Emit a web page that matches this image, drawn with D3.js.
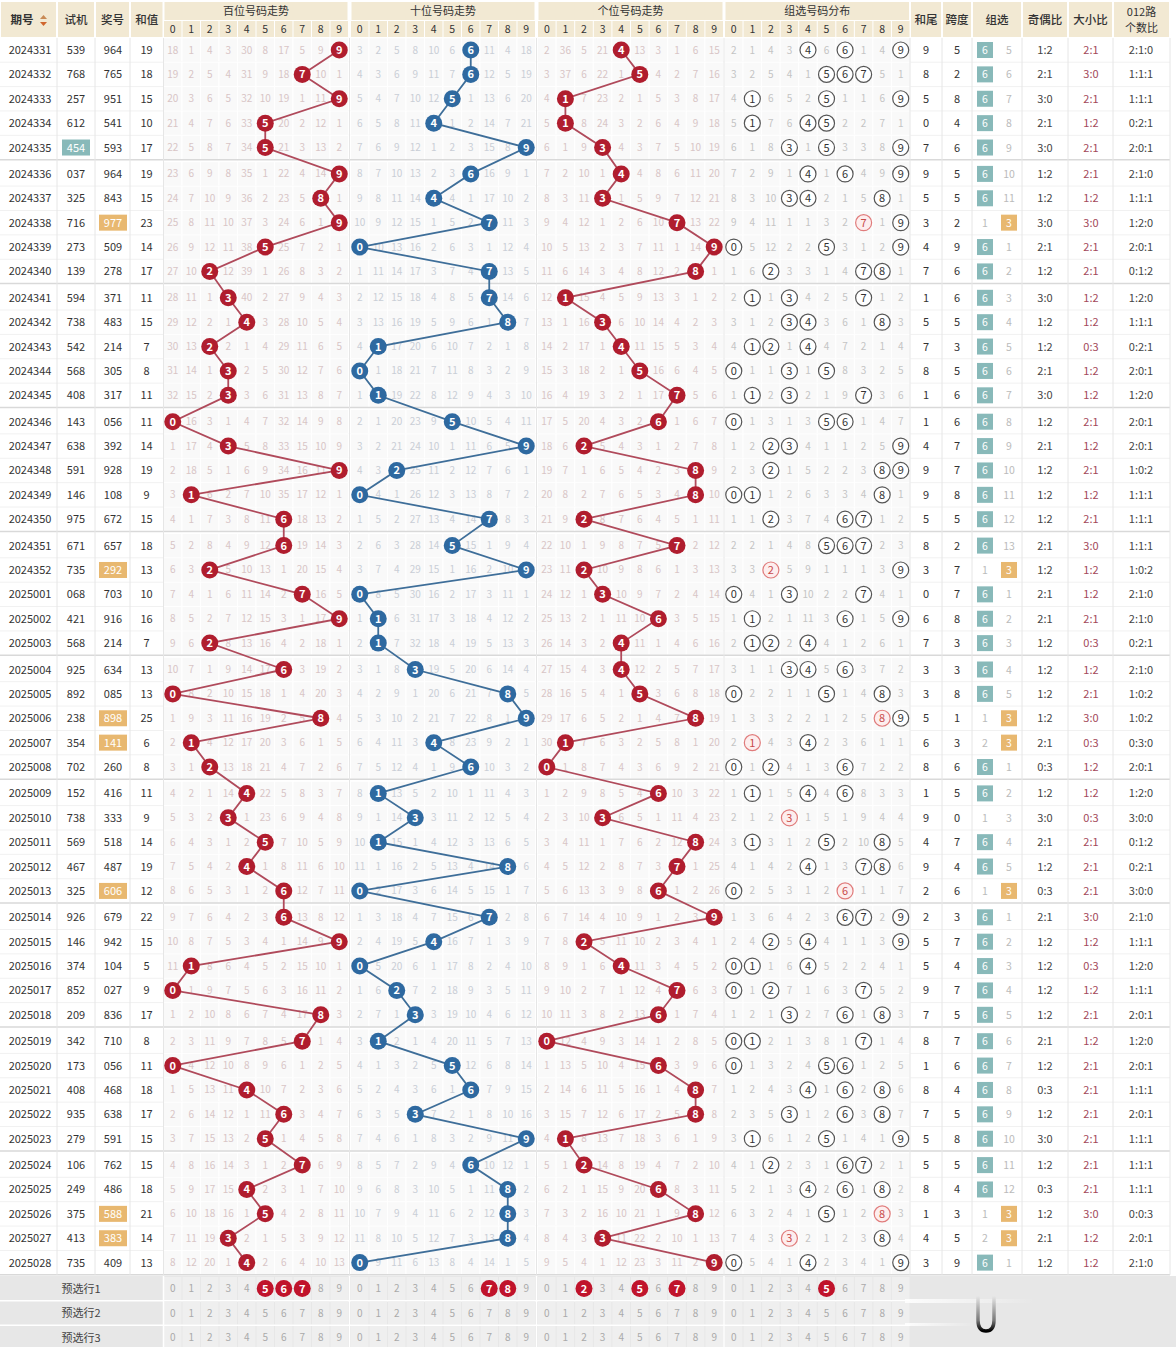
<!DOCTYPE html>
<html><head><meta charset="utf-8">
<script src="https://cdn.jsdelivr.net/npm/d3@7/dist/d3.min.js"></script>
<style>
body{margin:0;background:#fff;}
svg text{font-family:"Noto Sans CJK SC","Noto Sans",sans-serif;}
</style></head><body>
<div id="chart"></div>
<script>
// draw list
var issues = ["2024331","2024332","2024333","2024334","2024335","2024336","2024337","2024338","2024339","2024340",
  "2024341","2024342","2024343","2024344","2024345","2024346","2024347","2024348","2024349","2024350",
  "2024351","2024352","2025001","2025002","2025003","2025004","2025005","2025006","2025007","2025008",
  "2025009","2025010","2025011","2025012","2025013","2025014","2025015","2025016","2025017","2025018",
  "2025019","2025020","2025021","2025022","2025023","2025024","2025025","2025026","2025027","2025028"];
var testNums = ["539","768","257","612","454","037","325","716","273","139",
  "594","738","542","568","408","143","638","591","146","975",
  "671","735","068","421","568","925","892","238","354","702",
  "152","738","569","467","325","926","146","374","852","209",
  "342","173","408","935","279","106","249","375","413","735"];
var drawNums = ["964","765","951","541","593","964","843","977","509","278",
  "371","483","214","305","317","056","392","928","108","672",
  "657","292","703","916","214","634","085","898","141","260",
  "416","333","518","487","606","679","942","104","027","836",
  "710","056","468","638","591","762","486","588","383","409"];

// omission values shown on the first row (0 = hit)
var hundredsMiss0 = [18,1,4,3,30,8,17,5,9,0];
var tensMiss0     = [3,2,5,8,10,6,0,11,4,18];
var unitsMiss0    = [2,36,5,21,0,13,3,1,6,15];
var groupMiss0    = [2,1,4,3,0,6,0,1,4,0];
var group3Miss0 = 5;

// forecast rows
var pickHundreds = [[5,6,7],[],[]];
var pickTens     = [[7,8],[],[]];
var pickUnits    = [[2,5,7],[],[]];
var pickGroup    = [[5],[],[]];
var pickLabels = ["预选行1","预选行2","预选行3"];

var width = 1176, height = 1347;
var svg = d3.select("#chart").append("svg")
  .attr("width", width).attr("height", height);

var headBg = "#f2e9d3";
var rowH = 24.38;
var yLin = d3.scaleLinear().domain([0, 49]).range([50, 50 + 49*rowH]);
function rowY(i){ return yLin(i) + Math.floor(i/5)*2; }

var digits = d3.range(10);
var secs = [
  {title:"百位号码走势", x0:163.5, x1:348.5, miss0:hundredsMiss0, pos:0, ball:"#b01d2e", line:"#b04a5b", txt:"#d8c5c6", picks:pickHundreds},
  {title:"十位号码走势", x0:350.5, x1:535.5, miss0:tensMiss0, pos:1, ball:"#2e69a0", line:"#3e6e99", txt:"#c9ced6", picks:pickTens},
  {title:"个位号码走势", x0:537.5, x1:723.5, miss0:unitsMiss0, pos:2, ball:"#b01d2e", line:"#b04a5b", txt:"#d8c5c6", picks:pickUnits}
];
secs.forEach(function(s){ s.x = d3.scaleBand().domain(digits).range([s.x0, s.x1]); });
var gx = d3.scaleBand().domain(digits).range([724.5, 910]);

var cols = [
  {name:"期号", x0:0, x1:57},
  {name:"试机", x0:57, x1:95},
  {name:"奖号", x0:95, x1:130},
  {name:"和值", x0:130, x1:163.5}
];
var rcols = [
  {name:"和尾", x0:910, x1:942},
  {name:"跨度", x0:942, x1:972},
  {name:"组选", x0:972, x1:1022},
  {name:"奇偶比", x0:1022, x1:1068},
  {name:"大小比", x0:1068, x1:1113},
  {name:"012路", x0:1113, x1:1170}
];

// derived per-row values
var rows = drawNums.map(function(n, i){
  var d = n.split("").map(Number);
  var uniq = Array.from(new Set(d));
  var type = uniq.length == 3 ? 6 : (uniq.length == 2 ? 3 : 1);
  var odd = d.filter(function(v){ return v%2 == 1; }).length;
  var big = d.filter(function(v){ return v >= 5; }).length;
  var r = [0,1,2].map(function(k){ return d.filter(function(v){ return v%3 == k; }).length; });
  var sum = d3.sum(d);
  var t = testNums[i].split("").map(Number);
  var tt = new Set(t).size == 2;
  return {i:i, d:d, uniq:uniq, type:type, sum:sum, tail:sum%10, span:d3.max(d)-d3.min(d),
    oe:odd+":"+(3-odd), bs:big+":"+(3-big), r012:r.join(":"), testG3:tt};
});

// omission tables
function missRows(init, hit){
  var out = [], cur = init.slice();
  rows.forEach(function(r, i){
    if (i > 0) cur = cur.map(function(v, dg){ return hit(r, dg) ? 0 : v + 1; });
    out.push(cur.slice());
  });
  return out;
}
secs.forEach(function(s){ s.miss = missRows(s.miss0, function(r, dg){ return r.d[s.pos] == dg; }); });
var gMiss = missRows(groupMiss0, function(r, dg){ return r.d.indexOf(dg) >= 0; });
var g6 = 0, g3 = group3Miss0;
rows.forEach(function(r, i){
  if (i > 0){ g6 = r.type == 6 ? 0 : g6 + 1; g3 = r.type == 3 ? 0 : g3 + 1; }
  r.g6 = g6; r.g3 = g3;
});

// ---------- header ----------
var hdr = svg.append("g");
function hcell(x0, x1, y0, y1){
  hdr.append("rect").attr("x", x0+1).attr("y", y0).attr("width", x1-x0-2).attr("height", y1-y0).attr("fill", headBg);
}
cols.concat(rcols).forEach(function(c){
  hcell(c.x0, c.x1, 2, 37);
  if (c.name == "012路"){
    hdr.append("text").attr("x", (c.x0+c.x1)/2).attr("y", 16).attr("text-anchor","middle").attr("font-size",11).attr("fill","#333").text("012路");
    hdr.append("text").attr("x", (c.x0+c.x1)/2).attr("y", 32).attr("text-anchor","middle").attr("font-size",11).attr("fill","#333").text("个数比");
  } else {
    hdr.append("text").attr("x", c.name == "期号" ? 22 : (c.x0+c.x1)/2).attr("y", 24).attr("text-anchor","middle")
      .attr("font-size",11.5).attr("font-weight", c.name=="期号" ? 700 : 500).attr("fill","#333").text(c.name);
  }
});
// sort icon
hdr.append("path").attr("d","M40,19 L43.5,15 L47,19 Z").attr("fill","#c98a55");
hdr.append("path").attr("d","M40,22 L43.5,26 L47,22 Z").attr("fill","#d0662e");

var groupSec = {title:"组选号码分布", x0:724.5, x1:910, x:gx};
secs.concat([groupSec]).forEach(function(s){
  hcell(s.x0, s.x1, 2, 20);
  hdr.append("text").attr("x", (s.x0+s.x1)/2).attr("y", 15).attr("text-anchor","middle").attr("font-size",11).attr("fill","#333").text(s.title);
  digits.forEach(function(dg){
    hdr.append("rect").attr("x", s.x(dg)+0.5).attr("y", 21).attr("width", s.x.bandwidth()-1).attr("height", 16).attr("fill", headBg);
    hdr.append("text").attr("x", s.x(dg)+s.x.bandwidth()/2).attr("y", 33).attr("text-anchor","middle").attr("font-size",10.5).attr("fill","#333").text(dg);
  });
});

// ---------- body grid ----------
var body = svg.append("g");
rows.forEach(function(r, i){
  var y = rowY(i);
  secs.concat([groupSec]).forEach(function(s){
    digits.forEach(function(dg){
      body.append("rect").attr("x", s.x(dg)).attr("y", y-12.2).attr("width", s.x.bandwidth()).attr("height", rowH)
        .attr("fill", "#f9f9f9").attr("stroke", "#fff").attr("stroke-width", 1);
    });
  });
  body.append("line").attr("x1",0).attr("x2",1170).attr("y1", y+12.2).attr("y2", y+12.2)
    .attr("stroke", i%5 == 4 ? "#d9d9d9" : "#f1f1f1").attr("stroke-width", i%5 == 4 ? 1.5 : 1);
});
var yTop = 38, yBot = rowY(49) + 12.2;
[57,95,130,163.5,349.5,536.5,724,910,942,972,1022,1068,1113,1170].forEach(function(x){
  body.append("line").attr("x1",x).attr("x2",x).attr("y1",yTop).attr("y2",yBot).attr("stroke","#e6e6e6");
});

// ---------- left columns ----------
var left = svg.append("g").attr("font-size", 11).attr("fill", "#333").attr("text-anchor", "middle");
rows.forEach(function(r, i){
  var y = rowY(i) + 4;
  left.append("text").attr("x", 30).attr("y", y).text(issues[i]);
  if (r.testG3){
    left.append("rect").attr("x", 62).attr("y", rowY(i)-8).attr("width", 28).attr("height", 16).attr("fill", "#88b9b9");
    left.append("text").attr("x", 76).attr("y", y).attr("fill", "#fff").text(testNums[i]);
  } else left.append("text").attr("x", 76).attr("y", y).text(testNums[i]);
  if (r.type == 3){
    left.append("rect").attr("x", 99).attr("y", rowY(i)-8).attr("width", 28).attr("height", 16).attr("fill", "#e8b870");
    left.append("text").attr("x", 113).attr("y", y).attr("fill", "#fff").text(drawNums[i]);
  } else left.append("text").attr("x", 113).attr("y", y).text(drawNums[i]);
  left.append("text").attr("x", 146.5).attr("y", y).text(r.sum);
});

// ---------- trend sections ----------
secs.forEach(function(s){
  var g = svg.append("g");
  var bw = s.x.bandwidth()/2;
  rows.forEach(function(r, i){
    digits.forEach(function(dg){
      if (s.miss[i][dg] > 0)
        g.append("text").attr("x", s.x(dg)+bw).attr("y", rowY(i)+3.5).attr("text-anchor","middle")
          .attr("font-size", 10).attr("fill", s.txt).text(s.miss[i][dg]);
    });
  });
  g.append("path").datum(rows)
    .attr("fill", "none").attr("stroke", s.line).attr("stroke-width", 1.8)
    .attr("d", d3.line().x(function(r){ return s.x(r.d[s.pos]) + bw; }).y(function(r){ return rowY(r.i); }));
  var b = g.selectAll(".ball").data(rows).enter().append("g")
    .attr("transform", function(r){ return "translate(" + (s.x(r.d[s.pos]) + bw) + "," + rowY(r.i) + ")"; });
  b.append("circle").attr("r", 8.5).attr("fill", s.ball);
  b.append("text").attr("y", 4).attr("text-anchor","middle").attr("font-size", 11).attr("font-weight", 700)
    .attr("fill", "#fff").text(function(r){ return r.d[s.pos]; });
});

// ---------- group distribution ----------
var gg = svg.append("g");
var gbw = gx.bandwidth()/2;
rows.forEach(function(r, i){
  digits.forEach(function(dg){
    var cx = gx(dg) + gbw, cy = rowY(i);
    if (gMiss[i][dg] == 0){
      var cnt = r.d.filter(function(v){ return v == dg; }).length;
      var rep = cnt > 1;
      gg.append("circle").attr("cx", cx).attr("cy", cy).attr("r", 8)
        .attr("fill", rep ? "#fdeeee" : "#fff").attr("stroke", rep ? "#e07b7b" : "#555").attr("stroke-width", 1.2);
      gg.append("text").attr("x", cx).attr("y", cy+4).attr("text-anchor","middle").attr("font-size", 11)
        .attr("fill", rep ? "#c84a4a" : "#333").text(dg);
    } else {
      gg.append("text").attr("x", cx).attr("y", cy+3.5).attr("text-anchor","middle").attr("font-size", 10)
        .attr("fill", "#c4c4c4").text(gMiss[i][dg]);
    }
  });
});

// ---------- right columns ----------
var rg = svg.append("g").attr("font-size", 11).attr("text-anchor", "middle");
rows.forEach(function(r, i){
  var y = rowY(i) + 4;
  rg.append("text").attr("x", 926).attr("y", y).attr("fill", "#333").text(r.tail);
  rg.append("text").attr("x", 957).attr("y", y).attr("fill", "#333").text(r.span);
  if (r.type == 6){
    rg.append("rect").attr("x", 977).attr("y", rowY(i)-8).attr("width", 16).attr("height", 16).attr("fill", "#88b9b9");
    rg.append("text").attr("x", 985).attr("y", y).attr("fill", "#fff").attr("font-size", 10.5).text(6);
  } else rg.append("text").attr("x", 985).attr("y", y).attr("fill", "#bbb").attr("font-size", 10.5).text(r.g6);
  if (r.type == 3){
    rg.append("rect").attr("x", 1001).attr("y", rowY(i)-8).attr("width", 16).attr("height", 16).attr("fill", "#e8b870");
    rg.append("text").attr("x", 1009).attr("y", y).attr("fill", "#fff").attr("font-size", 10.5).text(3);
  } else rg.append("text").attr("x", 1009).attr("y", y).attr("fill", "#bbb").attr("font-size", 10.5).text(r.g3);
  rg.append("text").attr("x", 1045).attr("y", y).attr("fill", "#444").text(r.oe);
  rg.append("text").attr("x", 1091).attr("y", y).attr("fill", "#a3495a").text(r.bs);
  rg.append("text").attr("x", 1141).attr("y", y).attr("fill", "#444").text(r.r012);
});

// ---------- forecast rows ----------
var fy = [1288.5, 1313, 1337.5];
var fg = svg.append("g");
fg.append("rect").attr("x", 0).attr("y", 1276).attr("width", width).attr("height", height-1276).attr("fill", "#e7e7e7");
fy.forEach(function(y, k){
  fg.append("text").attr("x", 81).attr("y", y+4).attr("text-anchor","middle").attr("font-size", 11).attr("fill","#444").text(pickLabels[k]);
  secs.concat([{x:gx, picks:pickGroup}]).forEach(function(s){
    var bw = s.x.bandwidth()/2;
    digits.forEach(function(dg){
      fg.append("rect").attr("x", s.x(dg)+0.5).attr("y", y-11.5).attr("width", s.x.bandwidth()-1).attr("height", 23).attr("fill", "#efefef");
      if (s.picks[k].indexOf(dg) >= 0){
        fg.append("circle").attr("cx", s.x(dg)+bw).attr("cy", y).attr("r", 8.5).attr("fill", "#c0132b");
        fg.append("text").attr("x", s.x(dg)+bw).attr("y", y+4).attr("text-anchor","middle").attr("font-size", 11)
          .attr("font-weight", 700).attr("fill", "#fff").text(dg);
      } else {
        fg.append("text").attr("x", s.x(dg)+bw).attr("y", y+3.5).attr("text-anchor","middle").attr("font-size", 10)
          .attr("fill", "#aaa").text(dg);
      }
    });
  });
  if (k < 2) fg.append("line").attr("x1", 0).attr("x2", 910).attr("y1", y+12.3).attr("y2", y+12.3).attr("stroke", "#fff").attr("stroke-width", 1.5);
});
[163.5, 349.5, 536.5, 724].forEach(function(x){
  fg.append("line").attr("x1", x).attr("x2", x).attr("y1", 1276).attr("y2", height).attr("stroke", "#fff").attr("stroke-width", 1.5);
});
// scroll handle overlay seen on the screenshot
var defs = svg.append("defs");
var ug = defs.append("linearGradient").attr("id", "ug").attr("x1", 0).attr("y1", 0).attr("x2", 0).attr("y2", 1);
ug.append("stop").attr("offset", "0%").attr("stop-color", "#e7e7e7");
ug.append("stop").attr("offset", "70%").attr("stop-color", "#777");
ug.append("stop").attr("offset", "100%").attr("stop-color", "#000");
var wg = defs.append("linearGradient").attr("id", "wg").attr("x1", 0).attr("y1", 0).attr("x2", 1).attr("y2", 0);
wg.append("stop").attr("offset", "0%").attr("stop-color", "#fff").attr("stop-opacity", 0.9);
wg.append("stop").attr("offset", "100%").attr("stop-color", "#fff").attr("stop-opacity", 0);
fg.append("rect").attr("x", 905).attr("y", 1299).attr("width", 130).attr("height", 4).attr("fill", "url(#wg)");
fg.append("rect").attr("x", 905).attr("y", 1323).attr("width", 70).attr("height", 3).attr("fill", "url(#wg)");
fg.append("path").attr("d", "M978,1296 L978,1320 Q978,1331 986,1331 Q994,1331 994,1320 L994,1296")
  .attr("fill", "none").attr("stroke", "url(#ug)").attr("stroke-width", 3.5);
</script>
</body></html>
